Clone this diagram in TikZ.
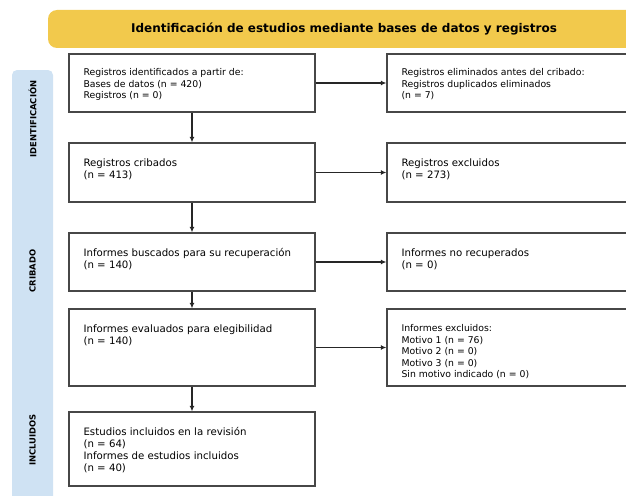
\documentclass[tikz,border=0pt]{standalone}
\usepackage{fontspec}
\setmainfont{DejaVu Sans}
\usetikzlibrary{arrows.meta}
\definecolor{headyellow}{HTML}{F2C94C}
\definecolor{sideblue}{HTML}{CFE2F3}
\tikzset{box/.style={draw=black!72, line width=1.3pt, minimum width=246pt, inner sep=0pt},
boxtext/.style={anchor=north west, inner sep=0pt, align=left, font=\fontsize{10.2}{12}\selectfont},
smalltext/.style={boxtext, font=\fontsize{9.3}{11.5}\selectfont},
phase/.style={rotate=90, inner sep=0pt, font=\bfseries\fontsize{8.4}{9}\selectfont},
flow/.style={-{Latex[length=5.5pt,width=5pt]}, line width=1.1pt, black!85}}

\begin{document}
\begin{tikzpicture}[x=1pt, y=-1pt]
        \useasboundingbox (0,0) rectangle (626,495);
        \clip (0,0) rectangle (626,495);
        % bands
        \fill[headyellow, rounded corners=9pt] (48,10) rectangle (720,48);
        \node[inner sep=0pt, font=\bfseries\fontsize{12}{14}\selectfont] (title) at (344,29)
          {Identificación de estudios mediante bases de datos y registros};
        \fill[sideblue, rounded corners=5pt] (12,70) rectangle (53,530);
        \foreach \lab/\y [count=\i] in {IDENTIFICACIÓN/119, CRIBADO/271, INCLUIDOS/440}{
          \node[phase] (phase\i) at (32.5,\y) {\lab};
        }
        % left column
        \node[box, minimum height=58pt] (ident) at (192,83) {};
        \node[box, minimum height=59pt] (cribados) at (192,172.5) {};
        \node[box, minimum height=58pt] (buscados) at (192,262) {};
        \node[box, minimum height=77pt] (evaluados) at (192,347.5) {};
        \node[box, minimum height=74pt] (incluidos) at (192,449) {};
        % right column
        \node[box, minimum height=58pt] (eliminados) at (510,83) {};
        \node[box, minimum height=59pt] (excluidos) at (510,172.5) {};
        \node[box, minimum height=58pt] (norecup) at (510,262) {};
        \node[box, minimum height=77pt] (excluidos2) at (510,347.5) {};
        % texts
        \node[smalltext] (t1) at ([shift={(15pt,-15pt)}]ident.north west)
          {Registros identificados a partir de:\\Bases de datos (n = 420)\\Registros (n = 0)};
        \node[boxtext] (t2) at ([shift={(15pt,-16pt)}]cribados.north west)
          {Registros cribados\\(n = 413)};
        \node[boxtext] (t3) at ([shift={(15pt,-16pt)}]buscados.north west)
          {Informes buscados para su recuperación\\(n = 140)};
        \node[boxtext] (t4) at ([shift={(15pt,-16pt)}]evaluados.north west)
          {Informes evaluados para elegibilidad\\(n = 140)};
        \node[boxtext] (t5) at ([shift={(15pt,-16pt)}]incluidos.north west)
          {Estudios incluidos en la revisión\\(n = 64)\\Informes de estudios incluidos\\(n = 40)};
        \node[smalltext] (t6) at ([shift={(15pt,-15pt)}]eliminados.north west)
          {Registros eliminados antes del cribado:\\Registros duplicados eliminados\\(n = 7)};
        \node[boxtext] (t7) at ([shift={(15pt,-16pt)}]excluidos.north west)
          {Registros excluidos\\(n = 273)};
        \node[boxtext] (t8) at ([shift={(15pt,-16pt)}]norecup.north west)
          {Informes no recuperados\\(n = 0)};
        \node[smalltext] (t9) at ([shift={(15pt,-16pt)}]excluidos2.north west)
          {Informes excluidos:\\Motivo 1 (n = 76)\\Motivo 2 (n = 0)\\Motivo 3 (n = 0)\\Sin motivo indicado (n = 0)};
        % arrows
        \draw[flow] (ident) -- (cribados);
        \draw[flow] (cribados) -- (buscados);
        \draw[flow] (buscados) -- (evaluados);
        \draw[flow] (evaluados) -- (incluidos);
        \draw[flow] (ident) -- (eliminados);
        \draw[flow] (cribados) -- (excluidos);
        \draw[flow] (buscados) -- (norecup);
        \draw[flow] (evaluados) -- (excluidos2);
\end{tikzpicture}
\end{document}
